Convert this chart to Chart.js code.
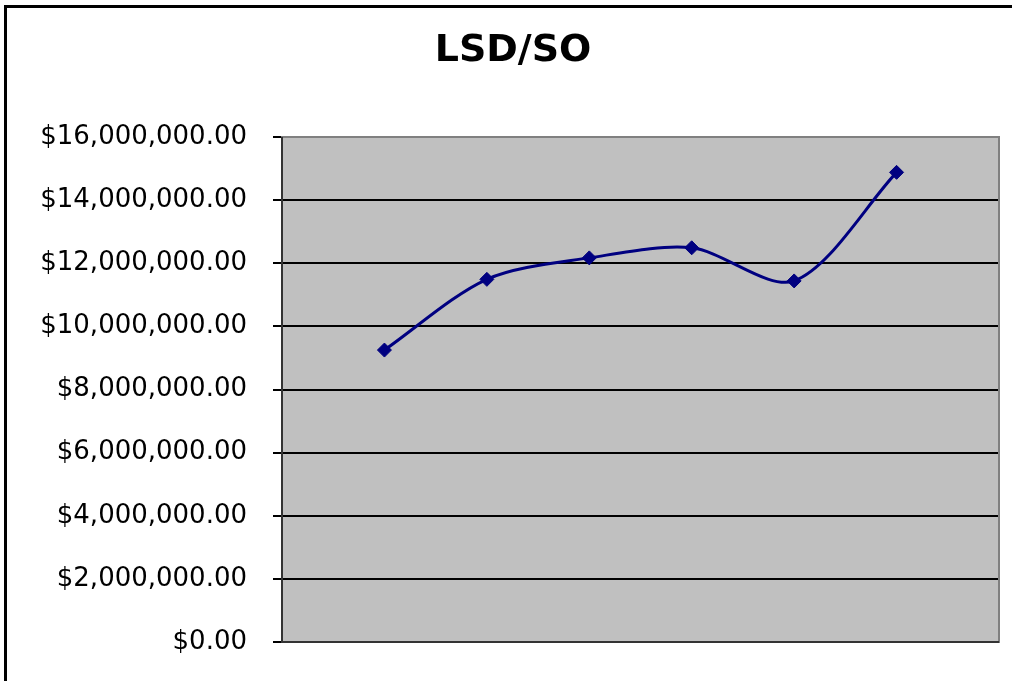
<!DOCTYPE html>
<html>
<head>
<meta charset="utf-8">
<title>LSD/SO</title>
<script src="https://cdn.jsdelivr.net/npm/chart.js@4/dist/chart.umd.min.js"></script>
<style>
  html, body { margin: 0; padding: 0; background: #fff; overflow: hidden; }
  canvas { display: block; }
</style>
</head>
<body>
<canvas id="chart" width="1012" height="681"></canvas>
<script>
// ---- data ----
const chartTitle = 'LSD/SO';
const categories = ['', '', '', '', '', '', '', ''];   // no x labels shown; end slots are empty
const lsdValues = [null, 9250000, 11490000, 12170000, 12490000, 11440000, 14880000, null];
const yTicks = [0, 2000000, 4000000, 6000000, 8000000, 10000000, 12000000, 14000000, 16000000];

const navy = '#000080';
const plotGray = '#C0C0C0';
const frameGray = '#808080';

// gray plot background + frame, outer chart border, title
const plotFrame = {
  id: 'plotFrame',
  beforeDraw(chart) {
    const { ctx, chartArea: a } = chart;
    ctx.save();
    ctx.fillStyle = plotGray;
    ctx.fillRect(a.left, a.top, a.right - a.left, a.bottom - a.top);
    // outer border of the chart object (runs off the right / bottom edge)
    ctx.strokeStyle = '#000';
    ctx.lineWidth = 3;
    ctx.strokeRect(5.5, 6.5, chart.width + 20, chart.height + 20);
    // title, centred on the whole chart object
    ctx.fillStyle = '#000';
    ctx.font = 'bold 38px "DejaVu Sans"';
    ctx.textAlign = 'center';
    ctx.textBaseline = 'middle';
    ctx.fillText(chartTitle, 513, 51);
    ctx.restore();
  },
  beforeDatasetsDraw(chart) {
    const { ctx, chartArea: a } = chart;
    ctx.save();
    ctx.strokeStyle = frameGray;
    ctx.lineWidth = 2;
    ctx.strokeRect(a.left, a.top, a.right - a.left, a.bottom - a.top);
    ctx.strokeStyle = '#333';
    ctx.beginPath();
    ctx.moveTo(a.left, a.top);
    ctx.lineTo(a.left, a.bottom);
    ctx.lineTo(a.right, a.bottom);
    ctx.stroke();
    ctx.restore();
  }
};

new Chart(document.getElementById('chart'), {
  type: 'line',
  data: {
    labels: categories,
    datasets: [{
      label: chartTitle,
      data: lsdValues,
      borderColor: navy,
      backgroundColor: navy,
      borderWidth: 3,
      tension: 0.3,
      pointStyle: 'rectRot',
      pointRadius: 7,
      pointHoverRadius: 7,
      pointBackgroundColor: navy,
      pointBorderColor: navy,
      pointBorderWidth: 1
    }]
  },
  options: {
    responsive: false,
    animation: false,
    layout: { padding: { top: 137, left: 0, right: 13, bottom: 39 } },
    plugins: {
      legend: { display: false },
      tooltip: { enabled: false },
      title: { display: false }
    },
    scales: {
      x: {
        display: false,
        offset: false
      },
      y: {
        min: 0,
        max: 16000000,
        afterBuildTicks: (scale) => {
          scale.ticks = yTicks.map(v => ({ value: v }));
        },
        afterFit: (scale) => {
          scale.width = 282;
          scale.paddingTop = 0;
          scale.paddingBottom = 0;
        },
        border: { display: false },
        grid: {
          color: (c) => (c.tick && (c.tick.value === 0 || c.tick.value === 16000000)) ? frameGray : '#000',
          lineWidth: 2,
          tickColor: '#000',
          tickLength: 9
        },
        ticks: {
          color: '#000',
          padding: 26,
          font: { family: 'DejaVu Sans', size: 26 },
          callback: (v) => '$' + Number(v).toLocaleString('en-US', { minimumFractionDigits: 2, maximumFractionDigits: 2 })
        }
      }
    }
  },
  plugins: [plotFrame]
});
</script>
</body>
</html>
